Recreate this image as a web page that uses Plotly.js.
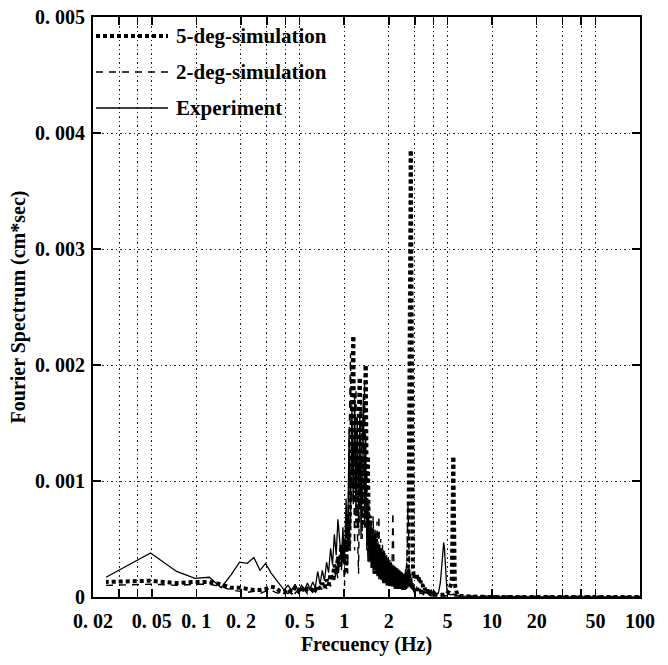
<!DOCTYPE html>
<html>
<head>
<meta charset="utf-8">
<script src="https://cdn.plot.ly/plotly-3.0.1.min.js"></script>
<style>html,body{margin:0;padding:0;background:#fff;}#chart{width:668px;height:665px;}</style>
</head>
<body>
<div id="chart"></div>
<script>
// Values are in units of 1e-4 cm*sec
const UNIT = 1e-4;

const freqLow = [0.0245,0.049,0.0735,0.098,0.1225,0.147,0.1715,0.196,0.2205,0.245,
  0.2695,0.294,0.3185,0.343,0.3675,0.392,0.4165,0.441,0.4655,0.49,
  0.5145,0.539,0.5635,0.588,0.6125,0.637,0.6615,0.686,0.7105,0.735,
  0.7595,0.784,0.8085,0.833,0.8575,0.882,0.9065,0.931,0.9555,0.98];
const freq12 = [1.0045,1.029,1.0535,1.078,1.1025,1.127,1.1515,1.176,1.2005,1.225,
  1.2495,1.274,1.2985,1.323,1.3475,1.372,1.3965,1.421,1.4455,1.47,
  1.4945,1.519,1.5435,1.568,1.5925,1.617,1.6415,1.666,1.6905,1.715,
  1.7395,1.764,1.7885,1.813,1.8375,1.862,1.8865,1.911,1.9355,1.96,1.9845];
const freq23 = [2.009,2.0335,2.058,2.0825,2.107,2.1315,2.156,2.1805,2.205,2.2295,
  2.254,2.2785,2.303,2.3275,2.352,2.3765,2.401,2.4255,2.45,2.4745,
  2.499,2.5235,2.548,2.5725,2.597,2.6215,2.646,2.6705,2.695,2.7195,
  2.744,2.7685,2.793,2.8175,2.842,2.8665,2.891,2.9155,2.94,2.9645,2.989];
const freq36 = [3.038,3.087,3.136,3.185,3.234,3.283,3.332,3.381,3.43,3.479,
  3.528,3.577,3.626,3.675,3.724,3.773,3.822,3.871,3.92,3.969,
  4.018,4.067,4.116,4.165,4.214,4.263,4.312,4.361,4.41,4.459,
  4.508,4.557,4.606,4.655,4.704,4.753,4.802,4.851,4.9,4.949,
  4.998,5.047,5.096,5.145,5.194,5.243,5.292,5.341,5.39,
  5.4145,5.439,5.4635,5.488,5.5125,5.537,
  5.586,5.635,5.684,5.733,5.782,5.831,5.88,5.929,5.978];
const freqHigh = [6.2,6.5,7,7.5,8,9,10,12,15,20,30,50,100];

// Experiment
const expLow = [1.7,3.8,2.2,1.6,1.7,0.8,1.9,3.0,2.9,3.4,
  2.3,2.9,2.1,1.6,1.1,0.6,1.0,0.6,1.1,0.5,
  1.0,0.6,1.2,0.7,1.3,0.8,2.2,1.1,2.3,1.4,
  3.0,2.1,4.2,2.8,5.4,3.6,6.7,4.6,3.2,6.0];
const exp12 = [3.0,8.5,4.0,14.5,6.0,16.5,8.0,17.5,7.0,15.5,
  6.0,16.0,5.0,13.5,17.5,6.0,14.0,4.0,8.5,3.0,
  6.5,2.5,6.0,2.0,5.5,2.0,5.0,1.8,4.8,1.5,
  4.5,1.5,4.2,1.4,4.0,1.3,3.8,1.2,3.6,1.2,3.4];
const exp23 = [1.1,3.2,1.0,3.0,0.9,2.8,0.9,2.7,0.8,2.6,
  0.8,2.5,0.7,2.4,0.7,2.3,0.7,2.2,0.6,2.1,
  0.6,2.0,0.6,2.0,0.6,2.2,0.7,2.4,0.8,2.6,
  0.9,2.4,0.8,2.0,0.7,1.6,0.6,1.2,0.5,1.0,0.5];
const exp36 = [0.6,0.9,0.5,0.8,0.4,0.7,0.4,0.6,0.3,0.5,
  0.3,0.5,0.3,0.4,0.2,0.4,0.2,0.3,0.2,0.3,
  0.2,0.3,0.2,0.3,0.2,0.3,0.3,0.5,0.8,1.2,
  1.8,2.5,3.3,4.1,4.7,4.3,3.2,2.0,1.1,0.6,
  0.4,0.3,0.3,0.2,0.2,0.2,0.2,0.2,0.2,
  0.2,0.2,0.3,0.2,0.2,0.2,
  0.2,0.1,0.1,0.1,0.1,0.1,0.1,0.1,0.1];
const expHigh = [0.1,0.08,0.05,0.04,0.03,0.02,0.02,0.01,0.01,0.01,0.01,0.005,0.005];

// 5-deg simulation
const s5Low = [1.3,1.4,1.2,1.3,1.3,1.1,0.8,0.8,0.7,0.6,
  0.6,0.7,0.9,0.8,0.5,0.4,0.7,0.4,0.8,0.5,
  0.9,0.4,0.7,0.5,0.8,0.6,1.0,0.7,1.2,0.8,
  1.5,1.0,2.0,1.4,2.8,2.0,3.5,2.5,4.5,3.0];
const s512 = [5.0,2.0,7.0,4.0,12.0,16.0,22.4,9.0,14.0,6.0,
  15.0,18.8,8.0,12.0,6.0,14.0,19.9,9.0,12.0,4.0,
  7.0,3.0,6.0,2.5,5.5,2.0,5.0,2.0,4.5,1.8,
  4.0,1.5,3.5,1.5,3.2,1.2,3.0,1.2,2.8,1.0,2.6];
const s523 = [1.8,1.0,1.6,0.9,1.5,0.8,1.4,0.8,1.3,0.7,
  1.3,0.7,1.2,0.7,1.2,0.7,1.3,0.8,1.4,0.9,
  1.6,1.0,1.8,1.2,2.0,1.4,2.2,1.8,2.6,4.0,
  7.0,14.0,25.0,38.4,24.0,9.0,4.0,2.5,2.0,1.6,1.8];
const s536 = [1.8,2.0,1.5,1.7,1.2,1.4,1.0,1.1,0.8,0.9,
  0.6,0.7,0.5,0.6,0.4,0.5,0.3,0.4,0.3,0.3,
  0.2,0.3,0.2,0.2,0.2,0.2,0.2,0.2,0.2,0.2,
  0.2,0.2,0.2,0.2,0.2,0.2,0.3,0.3,0.3,0.3,
  0.4,0.4,0.5,0.6,0.7,0.9,1.2,1.6,2.5,
  4.0,7.0,12.0,9.0,5.0,3.0,
  1.6,0.9,0.5,0.4,0.3,0.2,0.2,0.1,0.1];
const s5High = [0.1,0.05,0.03,0.02,0.02,0.01,0.01,0.01,0.005,0.005,0.005,0.005,0.005];

// 2-deg simulation
const s2Low = [1.0,1.1,1.0,1.1,1.1,0.9,0.6,0.5,0.4,0.5,
  0.3,0.5,0.6,0.4,0.3,0.5,0.3,0.6,0.3,0.7,
  0.4,0.6,0.3,0.6,0.4,0.8,0.5,0.9,0.6,1.1,
  0.7,1.3,0.9,1.8,1.2,2.4,1.6,3.2,2.2,4.0];
const s212 = [1.0,6.0,2.0,13.0,21.0,8.0,13.0,4.0,18.0,6.0,
  2.0,12.0,17.0,5.0,15.0,18.5,6.0,11.0,3.0,8.0,
  3.0,6.5,2.5,7.0,2.5,6.0,2.0,6.5,2.0,7.0,
  1.8,5.0,1.5,4.5,1.5,4.0,1.4,3.5,1.3,3.2,1.2];
const s223 = [2.2,1.2,2.0,1.5,3.0,7.3,2.5,1.0,1.8,0.8,
  1.6,0.8,1.5,0.7,1.4,0.7,1.4,0.8,1.5,1.0,
  1.7,1.2,2.0,1.5,2.4,2.0,3.0,4.5,8.0,5.0,
  2.5,1.5,1.2,1.0,0.9,0.7,0.8,0.5,0.6,0.4,0.5];
const s236 = [0.5,0.6,0.4,0.5,0.3,0.4,0.3,0.3,0.2,0.3,
  0.2,0.2,0.2,0.2,0.1,0.2,0.1,0.1,0.1,0.1,
  0.1,0.1,0.1,0.1,0.1,0.1,0.1,0.1,0.1,0.1,
  0.1,0.1,0.1,0.1,0.1,0.1,0.1,0.1,0.1,0.1,
  0.1,0.1,0.1,0.1,0.1,0.1,0.1,0.1,0.1,
  0.1,0.1,0.1,0.1,0.1,0.1,
  0.1,0.1,0.1,0.1,0.1,0.1,0.1,0.1,0.1];
const s2High = [0.05,0.05,0.05,0.05,0.05,0.05,0.05,0.05,0.05,0.05,0.05,0.05,0.05];

const xTickVals = [0.02,0.03,0.04,0.05,0.1,0.2,0.3,0.4,0.5,1,2,3,4,5,10,20,30,40,50,100];
const xTickText = ['0. 02','','','0. 05','0. 1','0. 2','','','0. 5','1','2','','','5','10','20','','','50','100'];
const yTickVals = [0,0.001,0.002,0.003,0.004,0.005];
const yTickText = ['0','0. 001','0. 002','0. 003','0. 004','0. 005'];
const legendNames = ['5-deg-simulation','2-deg-simulation','Experiment'];

const freq = [].concat(freqLow, freq12, freq23, freq36, freqHigh);
function join(a,b,c,d,e){
  const v = [].concat(a,b,c,d,e);
  if (v.length !== freq.length) throw new Error('length mismatch ' + v.length + ' vs ' + freq.length);
  return v.map(x => x * UNIT);
}
const expV = join(expLow, exp12, exp23, exp36, expHigh);
const s5V = join(s5Low, s512, s523, s536, s5High);
const s2V = join(s2Low, s212, s223, s236, s2High);

const FONT = 'Liberation Serif, Times New Roman, serif';
const fnt = (s) => ({family: FONT, size: s, color: '#000', weight: 'bold'});

const styles = [
  {color:'#000', width:4, dash:'4px,3px'},
  {color:'#000', width:1.4, dash:'7px,6px'},
  {color:'#000', width:1.3, dash:'solid'}
];

// Split the dotted series so that each tall spike is stroked outward from its top;
// this keeps the dots of the up and down strokes aligned (a column of dots).
function splitFromPeaks(x, y, style, name){
  const peaks = [];
  for (let i = 1; i < y.length - 1; i++) {
    if (y[i] >= 0.001 && y[i] > y[i-1] && y[i] > y[i+1]) peaks.push(i);
  }
  const cuts = [0];
  peaks.forEach((p, k) => {
    if (k > 0) {
      let m = peaks[k-1];
      for (let j = peaks[k-1]; j <= p; j++) if (y[j] < y[m]) m = j;
      cuts.push(m);
    }
    cuts.push(p);
  });
  cuts.push(y.length - 1);
  const out = [];
  for (let s = 0; s < cuts.length - 1; s++) {
    let xs = x.slice(cuts[s], cuts[s+1] + 1), ys = y.slice(cuts[s], cuts[s+1] + 1);
    if (peaks.includes(cuts[s+1])) { xs = xs.reverse(); ys = ys.reverse(); }
    out.push({x: xs, y: ys, name: name, type:'scatter', mode:'lines', line: style, hoverinfo:'skip'});
  }
  return out;
}

const traces = [
  {x: freq, y: expV, name: legendNames[2], type:'scatter', mode:'lines', line: styles[2]},
  {x: freq, y: s2V, name: legendNames[1], type:'scatter', mode:'lines', line: styles[1]}
].concat(splitFromPeaks(freq, s5V, styles[0], legendNames[0]));

// Legend drawn in paper coordinates (inside the upper-left corner)
const L = 93, R = 640, T = 17, B = 597;
const px = (v) => (v - L) / (R - L);
const py = (v) => (B - v) / (B - T);
const legY = [36, 72, 108];
const shapes = [], annotations = [];
legendNames.forEach((n, i) => {
  shapes.push({type:'line', xref:'paper', yref:'paper', x0: px(96), x1: px(168), y0: py(legY[i]), y1: py(legY[i]),
    line: {color:'#000', width: styles[i].width, dash: styles[i].dash}});
  annotations.push({xref:'paper', yref:'paper', x: px(174), y: py(legY[i]), xanchor:'left', yanchor:'middle',
    text: n, showarrow:false, font: fnt(21)});
});

const axisCommon = {
  showline:true, linecolor:'#000', linewidth:2, mirror:'ticks',
  ticks:'inside', ticklen:8, tickwidth:1.5, tickcolor:'#000',
  showgrid:true, gridcolor:'#222', gridwidth:1, griddash:'1.5px,3px',
  zeroline:false, tickfont: fnt(20), automargin:false
};

const layout = {
  width:668, height:665,
  margin:{l:L, r:668-R, t:T, b:665-B},
  paper_bgcolor:'#fff', plot_bgcolor:'#fff',
  showlegend:false,
  xaxis: Object.assign({}, axisCommon, {
    type:'log', range:[Math.log10(0.02), 2],
    tickmode:'array', tickvals:xTickVals, ticktext:xTickText,
    ticklabelstandoff: 5,
    title:{text:'Frecuency (Hz)', font: fnt(20), standoff: 6}
  }),
  yaxis: Object.assign({}, axisCommon, {
    range:[0, 0.005],
    tickmode:'array', tickvals:yTickVals, ticktext:yTickText,
    ticklabelstandoff: 2,
    title:{text:'Fourier Spectrum (cm*sec)', font: fnt(20), standoff: 4}
  }),
  shapes: shapes,
  annotations: annotations
};

Plotly.newPlot('chart', traces, layout, {displayModeBar:false, staticPlot:true});
</script>
</body>
</html>
